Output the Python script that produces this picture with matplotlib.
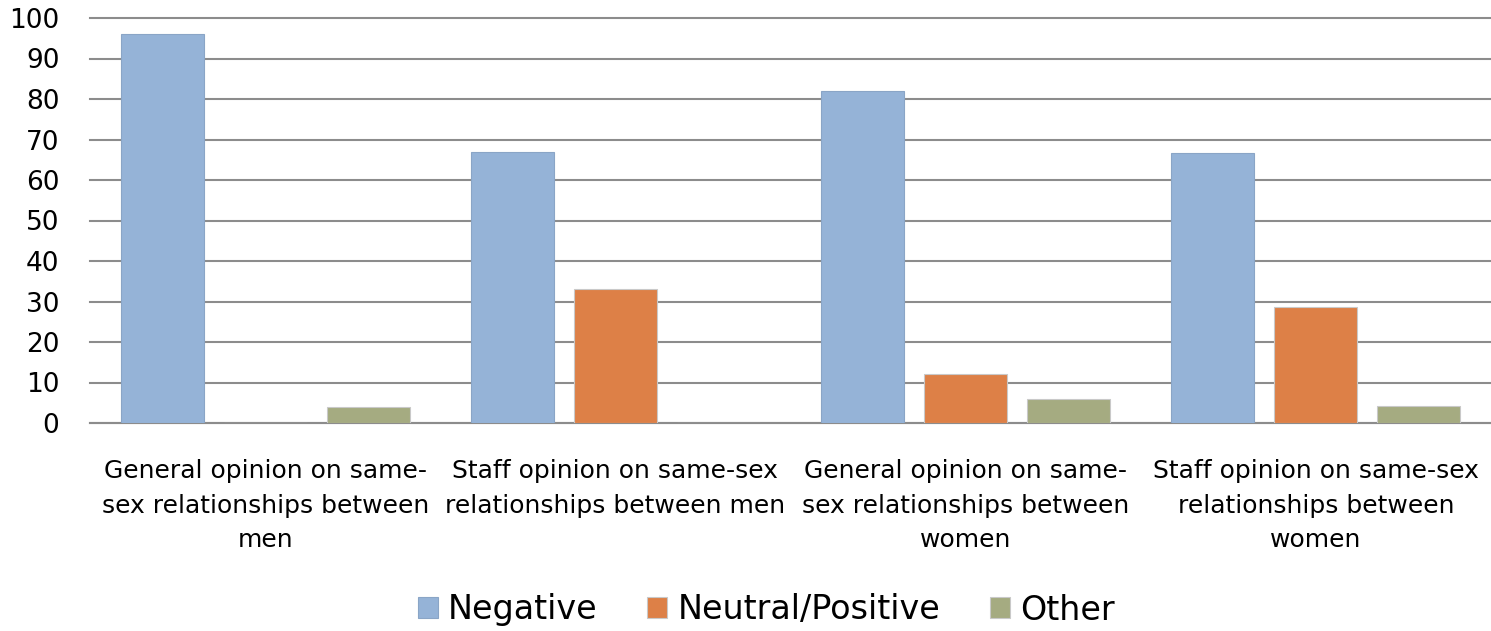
import matplotlib
matplotlib.use("Agg")
import matplotlib.pyplot as plt
import numpy as np

categories = [
    "General opinion on same-\nsex relationships between\nmen",
    "Staff opinion on same-sex\nrelationships between men",
    "General opinion on same-\nsex relationships between\nwomen",
    "Staff opinion on same-sex\nrelationships between\nwomen",
]
series_names = ["Negative", "Neutral/Positive", "Other"]
negative = [96, 67, 82, 66.7]
neutral = [0, 33, 12, 28.7]
other = [4, 0, 5.9, 4.2]
yticks = list(range(0, 101, 10))

colors = ["#95B3D7", "#DD8047", "#A5AB81"]
edges = ["#8AA5C6", "#C9C9C9", "#C9C9C9"]

plt.rcParams['font.family'] = ['DejaVu Sans']

fig = plt.figure(figsize=(14.91, 6.31), dpi=100)
ax = fig.add_axes([90/1491, 1-423/631, (1491-90)/1491, (423-18)/631])

x = np.arange(len(categories))
width = 0.237
step = 0.294
for i, (vals, name) in enumerate(zip([negative, neutral, other], series_names)):
    ax.bar(x + (i-1)*step, vals, width, color=colors[i], edgecolor=edges[i],
           linewidth=0.8, label=name, zorder=3)

ax.set_xlim(-0.5, len(categories)-0.5)
ax.set_ylim(0, 100)
ax.set_yticks(yticks)
ax.yaxis.grid(True, color="#8C8C8C", linewidth=1.5, zorder=0)
ax.set_axisbelow(True)
for line in ax.get_ygridlines():
    line.set_clip_on(False)
for s in ["left", "right", "top"]:
    ax.spines[s].set_visible(False)
ax.spines["bottom"].set_color("#8C8C8C")
ax.spines["bottom"].set_linewidth(1.5)
ax.tick_params(axis="y", length=0, labelsize=19, pad=22, colors="#000000")
ax.tick_params(axis="x", length=0, labelsize=18, pad=26)
ax.set_xticks(x)
ax.set_xticklabels(categories, linespacing=1.55)

leg = fig.legend(loc="center", bbox_to_anchor=(0.514, 1-610/631), ncol=3,
                 frameon=False, fontsize=24, handlelength=0.6, handleheight=0.6,
                 handletextpad=0.3, columnspacing=1.5)

fig.savefig("out.png", dpi=100)
